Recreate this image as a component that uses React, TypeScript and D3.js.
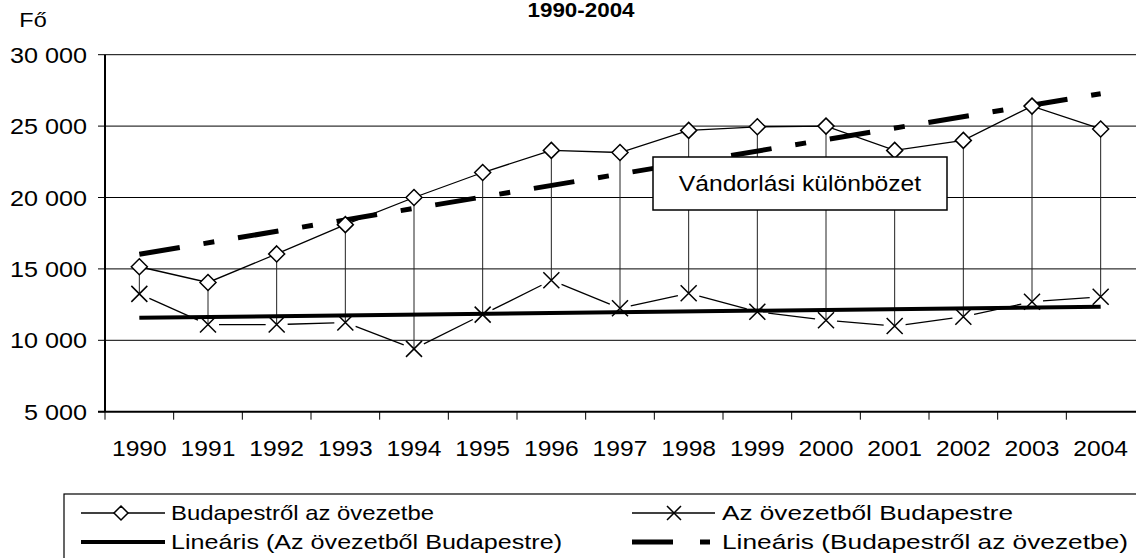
import React from "react";
import * as d3 from "d3";

// Data
const years = ["1990", "1991", "1992", "1993", "1994", "1995", "1996", "1997", "1998", "1999", "2000", "2001", "2002", "2003", "2004"];
const budapestToZone = [15150, 14050, 16050, 18100, 20000, 21750, 23300, 23150, 24700, 24950, 25000, 23300, 24000, 26400, 24800];
const zoneToBudapest = [13250, 11100, 11100, 11250, 9400, 11800, 14200, 12250, 13300, 12000, 11400, 11000, 11650, 12700, 13050];
const yTicks = [5000, 10000, 15000, 20000, 25000, 30000];
const legendLabels = [
  "Budapestről az övezetbe",
  "Az övezetből Budapestre",
  "Lineáris (Az övezetből Budapestre)",
  "Lineáris (Budapestről az övezetbe)",
];
const title = "1990-2004";
const yUnit = "Fő";
const boxLabel = "Vándorlási különbözet";

const W = 1136;
const H = 558;
const FONT = "'Liberation Sans', Arial, sans-serif";
const SX = 1.12; // reference text is stretched horizontally

const fmt = d3.formatLocale({ decimal: ",", thousands: " ", grouping: [3], currency: ["", ""] }).format(",d");

// least squares fit over category index
function linFit(vals: number[]) {
  const n = vals.length;
  const mx = (n - 1) / 2;
  const my = d3.mean(vals)!;
  let sxy = 0, sxx = 0;
  vals.forEach((v, i) => {
    sxy += (i - mx) * (v - my);
    sxx += (i - mx) * (i - mx);
  });
  const b = sxy / sxx;
  return (i: number) => my + b * (i - mx);
}

const Txt: React.FC<{ x: number; y: number; anchor?: string; size: number; bold?: boolean; len?: number; children: React.ReactNode }> = ({ x, y, anchor = "start", size, bold, len, children }) =>
  len ? (
    <text
      x={x}
      y={y}
      textAnchor={anchor}
      fontSize={size}
      fontFamily={FONT}
      textLength={len}
      lengthAdjust="spacingAndGlyphs"
      fill="#000"
    >
      {children}
    </text>
  ) : (
    <text
      transform={`translate(${x},${y}) scale(${SX},1)`}
      textAnchor={anchor}
      fontSize={size}
      fontWeight={bold ? "bold" : "normal"}
      fontFamily={FONT}
      fill="#000"
    >
      {children}
    </text>
  );

const Diamond: React.FC<{ cx: number; cy: number; r?: number }> = ({ cx, cy, r = 8 }) => (
  <path
    d={`M${cx},${cy - r}L${cx + r},${cy}L${cx},${cy + r}L${cx - r},${cy}Z`}
    fill="#fff"
    stroke="#000"
    strokeWidth={1.5}
  />
);

const Cross: React.FC<{ cx: number; cy: number; r?: number }> = ({ cx, cy, r = 8 }) => (
  <path
    d={`M${cx - r},${cy - r}L${cx + r},${cy + r}M${cx - r},${cy + r}L${cx + r},${cy - r}`}
    stroke="#000"
    strokeWidth={1.5}
    fill="none"
  />
);

const App: React.FC = () => {
  const left = 105;
  const right = 1135;
  const top = 54.7;
  const bottom = 411.7;

  const x = d3.scaleBand<string>().domain(years).range([left, right]).padding(0);
  const cx = (yr: string) => x(yr)! + x.bandwidth() / 2;
  const y = d3.scaleLinear().domain([5000, 30000]).range([bottom, top]);

  const line = d3
    .line<number>()
    .x((_, i) => cx(years[i]))
    .y((d) => y(d));

  const fitA = linFit(budapestToZone);
  const fitB = linFit(zoneToBudapest);
  const n = years.length - 1;

  // X series: segments with a gap round each marker
  const gap = 11;
  const crossSegs = zoneToBudapest.slice(1).map((v, k) => {
    const x0 = cx(years[k]);
    const y0 = y(zoneToBudapest[k]);
    const x1 = cx(years[k + 1]);
    const y1 = y(v);
    const len = Math.hypot(x1 - x0, y1 - y0);
    const ux = (x1 - x0) / len;
    const uy = (y1 - y0) / len;
    return { x0: x0 + ux * gap, y0: y0 + uy * gap, x1: x1 - ux * gap, y1: y1 - uy * gap };
  });

  const dashA = "41 24 11 24";

  return (
    <svg width={W} height={H} style={{ position: "absolute", left: 0, top: 0, background: "#fff" }}>
      <rect width={W} height={H} fill="#fff" />

      {/* title and unit */}
      <Txt x={581} y={17} anchor="middle" size={20} bold>
        {title}
      </Txt>
      <Txt x={33} y={27} anchor="middle" size={21}>
        {yUnit}
      </Txt>

      {/* gridlines */}
      {yTicks.slice(1).map((t) => (
        <line key={t} x1={left} x2={right + 1} y1={y(t)} y2={y(t)} stroke="#000" strokeWidth={1} />
      ))}

      {/* y axis */}
      <line x1={left} x2={left} y1={top} y2={bottom} stroke="#000" strokeWidth={2} />
      {yTicks.map((t) => (
        <g key={t}>
          <line x1={98} x2={left} y1={y(t)} y2={y(t)} stroke="#000" strokeWidth={1} />
          <Txt x={87} y={y(t) + 8} anchor="end" size={22.5}>
            {fmt(t)}
          </Txt>
        </g>
      ))}

      {/* x axis */}
      <line x1={98} x2={right + 1} y1={bottom} y2={bottom} stroke="#000" strokeWidth={2} />
      {years.map((yr) => (
        <g key={yr}>
          <line x1={x(yr)!} x2={x(yr)!} y1={bottom} y2={bottom + 8} stroke="#000" strokeWidth={1} />
          <Txt x={cx(yr)} y={456} anchor="middle" size={22}>
            {yr}
          </Txt>
        </g>
      ))}

      {/* high-low lines */}
      {years.map((yr, i) => (
        <line
          key={yr}
          x1={cx(yr)}
          x2={cx(yr)}
          y1={y(budapestToZone[i])}
          y2={y(zoneToBudapest[i])}
          stroke="#222"
          strokeWidth={1}
        />
      ))}

      {/* trend lines */}
      <line
        x1={cx(years[0])}
        x2={cx(years[n])}
        y1={y(fitB(0))}
        y2={y(fitB(n))}
        stroke="#000"
        strokeWidth={4}
      />
      <line
        x1={cx(years[0])}
        x2={cx(years[n])}
        y1={y(fitA(0))}
        y2={y(fitA(n))}
        stroke="#000"
        strokeWidth={5}
        strokeDasharray={dashA}
      />

      {/* series */}
      {crossSegs.map((s, i) => (
        <line key={i} x1={s.x0} y1={s.y0} x2={s.x1} y2={s.y1} stroke="#000" strokeWidth={1.3} />
      ))}
      {zoneToBudapest.map((v, i) => (
        <Cross key={i} cx={cx(years[i])} cy={y(v)} />
      ))}
      <path d={line(budapestToZone)!} fill="none" stroke="#000" strokeWidth={1.3} />
      {budapestToZone.map((v, i) => (
        <Diamond key={i} cx={cx(years[i])} cy={y(v)} />
      ))}

      {/* annotation box */}
      <rect x={653} y={157} width={294} height={53} fill="#fff" stroke="#000" strokeWidth={1.5} />
      <Txt x={800} y={191} anchor="middle" size={22}>
        {boxLabel}
      </Txt>

      {/* legend */}
      <rect x={64} y={494} width={1100} height={80} fill="#fff" stroke="#000" strokeWidth={1.2} />
      <line x1={81} x2={165} y1={513} y2={513} stroke="#000" strokeWidth={1.3} />
      <Diamond cx={121} cy={513} r={7} />
      <Txt x={171} y={520} size={21} len={263}>
        {legendLabels[0]}
      </Txt>
      <line x1={81} x2={165} y1={542} y2={542} stroke="#000" strokeWidth={4} />
      <Txt x={171} y={549} size={21} len={391}>
        {legendLabels[2]}
      </Txt>
      <line x1={632} x2={715} y1={513} y2={513} stroke="#000" strokeWidth={1.3} />
      <Cross cx={674} cy={513} r={7} />
      <Txt x={722} y={520} size={21} len={291}>
        {legendLabels[1]}
      </Txt>
      <line x1={632} x2={673} y1={542} y2={542} stroke="#000" strokeWidth={5} />
      <line x1={700} x2={710} y1={542} y2={542} stroke="#000" strokeWidth={5} />
      <Txt x={722} y={549} size={21} len={406}>
        {legendLabels[3]}
      </Txt>
    </svg>
  );
};

export default App;
